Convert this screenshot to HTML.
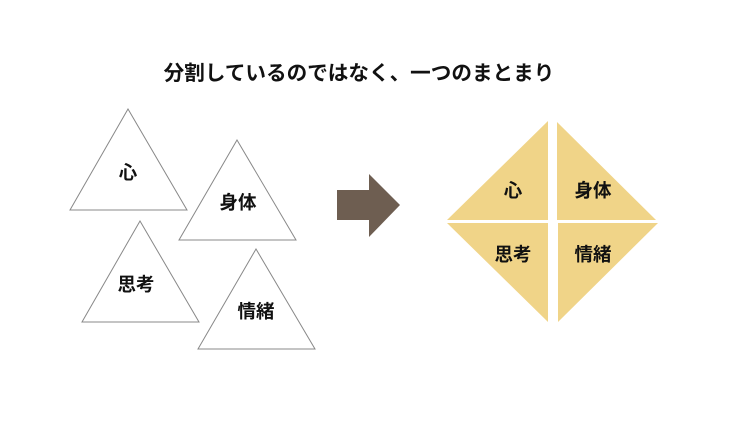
<!DOCTYPE html>
<html><head><meta charset="utf-8"><style>
html,body{margin:0;padding:0;background:#fff;}
svg text{font-family:"Liberation Sans","Noto Sans CJK JP",sans-serif;font-weight:bold;fill:#111;}
</style></head><body>
<svg width="750" height="422" viewBox="0 0 750 422" xmlns="http://www.w3.org/2000/svg">
<text x="359" y="80" font-size="20.6" text-anchor="middle">分割しているのではなく、一つのまとまり</text>
<g fill="#fff" stroke="#888" stroke-width="1">
<polygon points="128,109 187,210 70,210"/>
<polygon points="237,140 296,240 179,240"/>
<polygon points="140,221 199,322 82,322"/>
<polygon points="256,249 315,349 198,349"/>
</g>
<g font-size="18.5" text-anchor="middle">
<text x="128" y="179">心</text>
<text x="238" y="209">身体</text>
<text x="136" y="291">思考</text>
<text x="256" y="318">情緒</text>
</g>
<polygon points="337,190 369,190 369,174 400,205 369,237 369,220 337,220" fill="#6e5e51"/>
<g fill="#f0d488">
<polygon points="548,121 548,220 447,220"/>
<polygon points="557,122 557,220 656,220"/>
<polygon points="447,223 548,223 548,322"/>
<polygon points="558,223 658,223 558,322"/>
</g>
<g font-size="18.5" text-anchor="middle">
<text x="513" y="197">心</text>
<text x="593" y="197">身体</text>
<text x="513" y="261">思考</text>
<text x="593" y="261">情緒</text>
</g>
</svg>
</body></html>
